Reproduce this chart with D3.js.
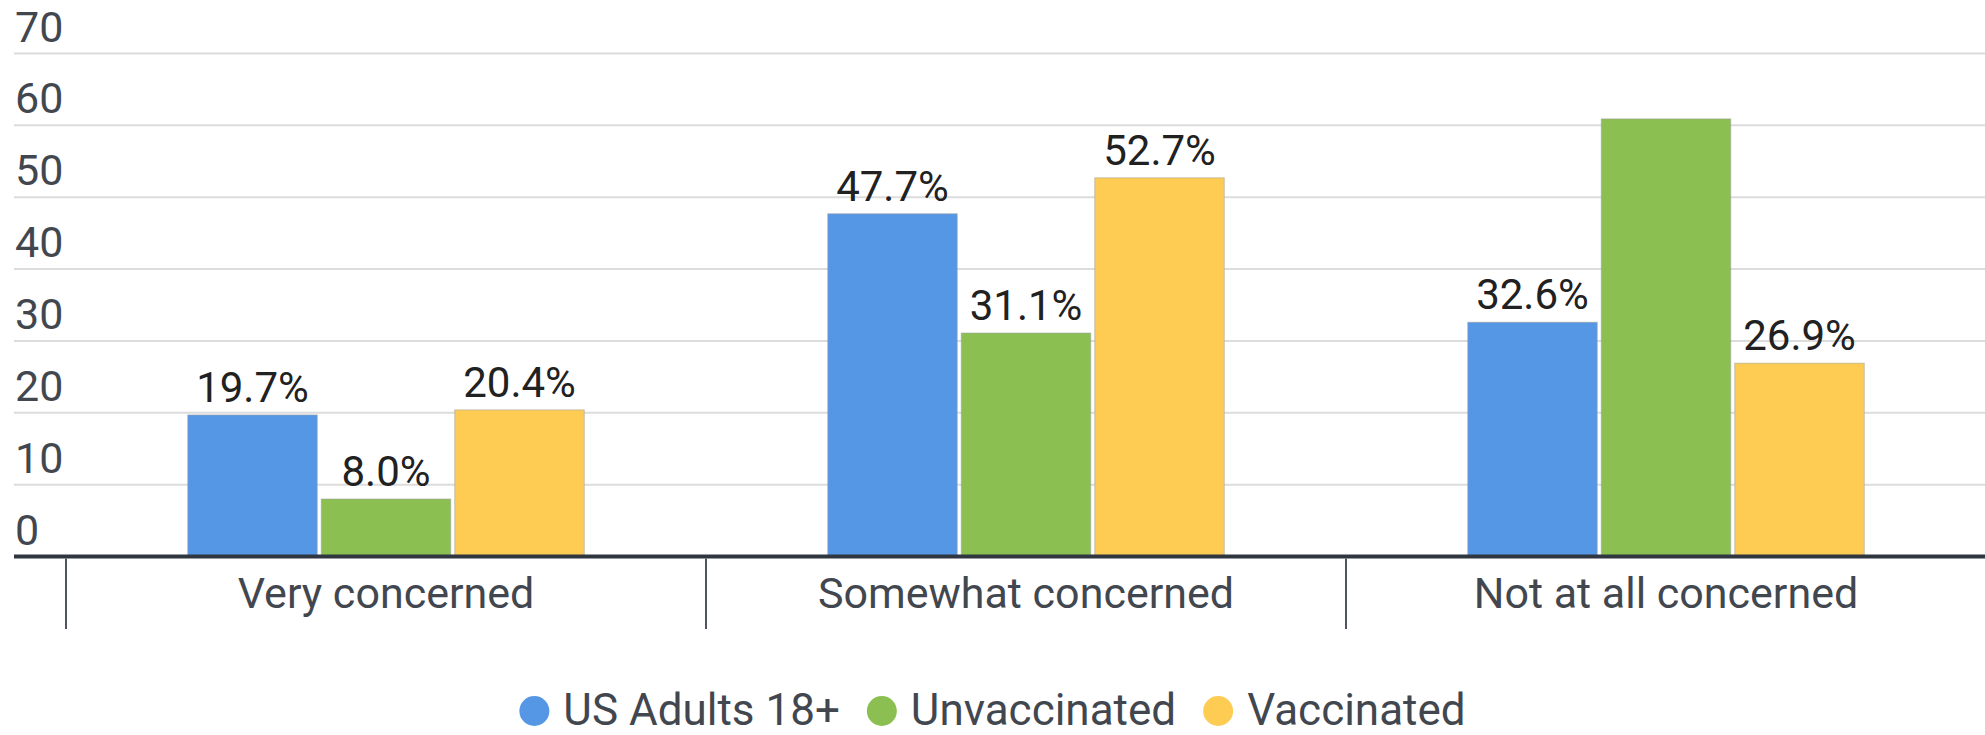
<!DOCTYPE html>
<html>
<head>
<meta charset="utf-8">
<script src="https://cdn.jsdelivr.net/npm/d3@7/dist/d3.min.js"></script>
<style>
  html, body { margin: 0; padding: 0; background: #fff; }
  svg { display: block; font-family: Roboto, "Noto Sans", sans-serif; }
</style>
</head>
<body>
<svg id="chart" width="1985" height="735"></svg>
<script>
// Survey categories and the share (%) of each group in them
const categories = ["Very concerned", "Somewhat concerned", "Not at all concerned"];
const seriesNames = ["US Adults 18+", "Unvaccinated", "Vaccinated"];
const usAdults = [19.7, 47.7, 32.6];
const unvaccinated = [8.0, 31.1, 60.9];
const vaccinated = [20.4, 52.7, 26.9];
// Bars that carry a printed value label (the tallest one has none)
const showLabel = [[true, true, true], [true, true, false], [true, true, true]];
const yTicks = [0, 10, 20, 30, 40, 50, 60, 70];
const colors = ["#5597e4", "#8cbf51", "#fecb53"];

const seriesValues = [usAdults, unvaccinated, vaccinated];
const rows = categories.map((c, i) => ({
  category: c,
  bars: seriesNames.map((s, j) => ({ series: s, value: seriesValues[j][i], labelled: showLabel[j][i], idx: j }))
}));

const svg = d3.select("#chart");
const W = 1985;

const x0 = d3.scaleBand().domain(categories).range([66, 1986]).padding(0);
const x1 = d3.scaleBand().domain(seriesNames).range([0, x0.bandwidth()])
  .paddingInner(0.03).paddingOuter(0.912);
const y = d3.scaleLinear().domain([0, 70]).range([556.5, 53.5]);
const color = d3.scaleOrdinal().domain(seriesNames).range(colors);

// Horizontal gridlines
svg.append("g").selectAll("line").data(yTicks.filter(t => t > 0)).join("line")
  .attr("x1", 14).attr("x2", W)
  .attr("y1", d => y(d)).attr("y2", d => y(d))
  .attr("stroke", "#dcdcdc").attr("stroke-width", 2);

// Y tick labels sit above their gridline, flush left
svg.append("g").selectAll("text").data(yTicks).join("text")
  .attr("x", 15).attr("y", d => y(d) - 12)
  .attr("font-size", 43).attr("fill", "#42474f")
  .text(d => d);

// Bars
const groups = svg.append("g").selectAll("g").data(rows).join("g")
  .attr("transform", d => `translate(${x0(d.category)},0)`);

groups.selectAll("rect").data(d => d.bars).join("rect")
  .attr("x", d => x1(d.series))
  .attr("width", x1.bandwidth())
  .attr("y", d => y(d.value))
  .attr("height", d => y(0) - y(d.value))
  .attr("fill", d => color(d.series))
  .attr("stroke", "#9e9e9e").attr("stroke-opacity", 0.55).attr("stroke-width", 1);

// Value labels
groups.selectAll("text").data(d => d.bars.filter(b => b.labelled)).join("text")
  .attr("x", d => x1(d.series) + x1.bandwidth() / 2)
  .attr("y", d => y(d.value) - 13)
  .attr("text-anchor", "middle")
  .attr("font-size", 42).attr("fill", "#212121")
  .text(d => d.value.toFixed(1) + "%");

// Baseline
svg.append("line")
  .attr("x1", 14).attr("x2", W)
  .attr("y1", y(0)).attr("y2", y(0))
  .attr("stroke", "#2f3640").attr("stroke-width", 4);

// Category separators below the baseline
svg.append("g").selectAll("line").data(categories).join("line")
  .attr("x1", d => x0(d)).attr("x2", d => x0(d))
  .attr("y1", y(0) + 2).attr("y2", 629)
  .attr("stroke", "#50565e").attr("stroke-width", 2);

// Category labels
svg.append("g").selectAll("text").data(categories).join("text")
  .attr("x", d => x0(d) + x0.bandwidth() / 2)
  .attr("y", 608)
  .attr("text-anchor", "middle")
  .attr("font-size", 43).attr("fill", "#42474f")
  .text(d => d);

// Legend, centred horizontally
const legend = svg.append("g");
const r = 15, textGap = 14, itemGap = 27;
const items = legend.selectAll("g").data(seriesNames).join("g");
items.append("circle").attr("r", r).attr("cy", 0).attr("fill", d => color(d));
items.append("text")
  .attr("x", r + textGap).attr("y", 14)
  .attr("font-size", 44).attr("fill", "#42474f")
  .text(d => d);
let cursor = 0;
items.each(function () {
  const g = d3.select(this);
  const tw = g.select("text").node().getComputedTextLength();
  g.attr("transform", `translate(${cursor + r},0)`);
  cursor += 2 * r + textGap + tw + itemGap;
});
const totalW = cursor - itemGap;
legend.attr("transform", `translate(${(W - totalW) / 2},711)`);
</script>
</body>
</html>
